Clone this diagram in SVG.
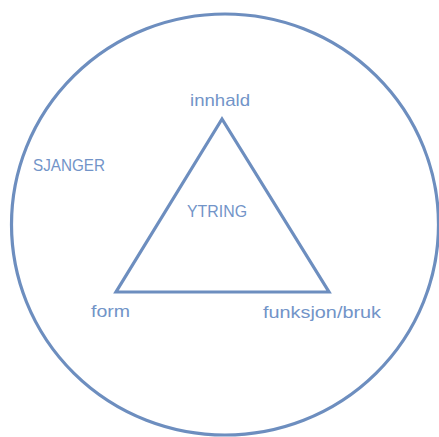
<svg xmlns="http://www.w3.org/2000/svg" width="439" height="437" viewBox="0 0 439 437">
<style>
.ln{fill:none;stroke:#6d8ebf;stroke-width:3.2}
.t{font-family:"Liberation Sans",Arial,sans-serif;font-size:17px;fill:#7294c8;text-anchor:middle}
</style>
<rect width="439" height="437" fill="#ffffff"/>
<g id="sjanger">
<ellipse class="ln" cx="225" cy="224.5" rx="213.5" ry="210.5"/>
<text class="t" x="69" y="171" textLength="72" lengthAdjust="spacingAndGlyphs">SJANGER</text>
</g>
<g id="ytring">
<polygon class="ln" points="222,119 116,292 329,292" stroke-linejoin="miter"/>
<text class="t" x="217" y="217" textLength="60" lengthAdjust="spacingAndGlyphs">YTRING</text>
</g>
<g id="innhald"><text class="t" x="220" y="106" textLength="60" lengthAdjust="spacingAndGlyphs">innhald</text></g>
<g id="form"><text class="t" x="110.5" y="317" textLength="39" lengthAdjust="spacingAndGlyphs">form</text></g>
<g id="funksjon"><text class="t" x="322" y="318" textLength="118" lengthAdjust="spacingAndGlyphs">funksjon/bruk</text></g>
<g id="connectors"></g>
</svg>
